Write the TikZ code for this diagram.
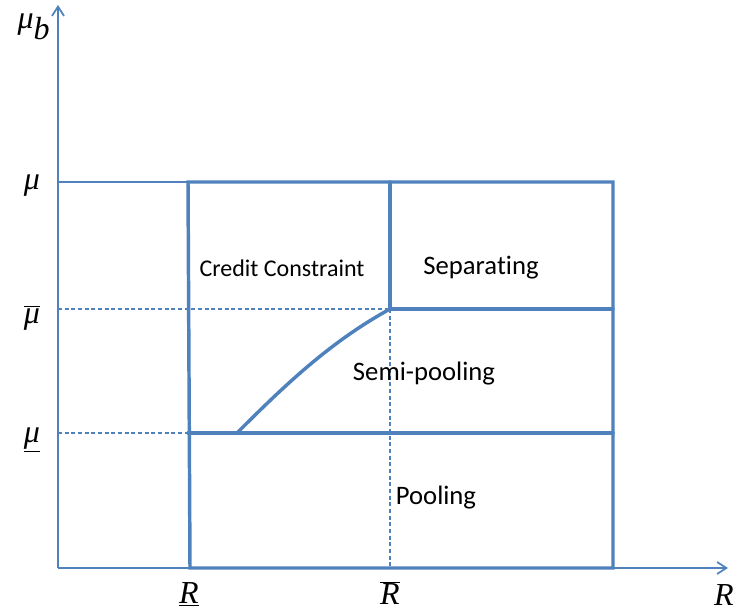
\documentclass[tikz,border=0pt]{standalone}
\usepackage{fontspec}
\setmainfont[Ligatures=NoCommon]{Carlito}
\newfontfamily\mathlike{Liberation Serif}
\usepackage{xcolor}
\definecolor{office-blue}{HTML}{4F81BD}
\usetikzlibrary{arrows.meta, positioning}
\newcommand{\symit}[1]{\mbox{\mathlike\itshape #1}}

\begin{document}
\begin{tikzpicture}[
            x=0.75pt, y=-0.75pt,
            axisline/.style={draw=office-blue, line width=1.3pt, -{Straight Barb[length=7pt, width=9pt]}},
            thinline/.style={draw=office-blue, line width=1pt},
            regionline/.style={draw=office-blue, line width=2.6pt, line cap=round},
            guideline/.style={draw=office-blue, line width=0.8pt, dash pattern=on 3pt off 2pt},
            regionlabel/.style={font=\fontsize{20}{24}\selectfont, inner sep=0pt},
            ticklabel/.style={font=\fontsize{24}{28}\selectfont, inner sep=0pt}
        ]
        \useasboundingbox (0,0) rectangle (738,616);

        % --- AXES ---
        \coordinate (origin) at (58,568);
        \coordinate (yend) at (58,5);
        \coordinate (xend) at (728,568);
        \draw[axisline] (origin) -- (yend);
        \draw[axisline] (origin) -- (xend);

        % --- KEY POINTS ---
        \coordinate (tl) at (188,182);
        \coordinate (tm) at (390,182);
        \coordinate (tr) at (613,182);
        \coordinate (bl) at (190,568);
        \coordinate (br) at (613,568);
        \coordinate (kink) at (390,309);
        \coordinate (mr) at (613,309);
        \coordinate (ll) at (188,433);
        \coordinate (lr) at (613,433);
        \coordinate (cstart) at (237,433);
        \coordinate (ytop) at (58,182);
        \coordinate (ybar) at (58,309);
        \coordinate (ylow) at (58,433);
        \coordinate (xbar) at (390,568);

        % --- GUIDE LINES ---
        \draw[thinline] (ytop) -- (tl);
        \draw[guideline] (ybar) -- (kink);
        \draw[guideline] (ylow) -- (ll);
        \draw[guideline] (kink) -- (xbar);

        % --- REGIONS ---
        \draw[regionline] (tl) -- (tr) -- (br) -- (bl) -- cycle;
        \draw[regionline] (tm) -- (kink) -- (mr);
        \draw[regionline] (ll) -- (lr);
        \draw[regionline] (cstart) .. controls (285,385) and (330,342) .. (kink);

        \node[regionlabel, font=\fontsize{18}{22}\selectfont] (cc) at (282,268) {Credit Constraint};
        \node[regionlabel] (sep) at (481,268) {Separating};
        \node[regionlabel] (semi) at (424,374) {Semi-pooling};
        \node[regionlabel] (pool) at (436,498) {Pooling};

        % --- AXIS LABELS ---
        \node[ticklabel] (lmub) at (34,27) {$\symit{μ}_{\symit{b}}$};
        \node[ticklabel] (lmu) at (32,186) {\symit{μ}};
        \node[ticklabel] (lmubar) at (32,318) {$\overline{\symit{μ}}$};
        \node[ticklabel] (lmulow) at (32,440) {$\underline{\symit{μ}}$};
        \node[ticklabel] (lrlow) at (189,594) {$\underline{\symit{R}}$};
        \node[ticklabel] (lrbar) at (390,593) {$\overline{\symit{R}}$};
        \node[ticklabel] (lr) at (724,595) {\symit{R}};

        \end{tikzpicture}
\end{document}
